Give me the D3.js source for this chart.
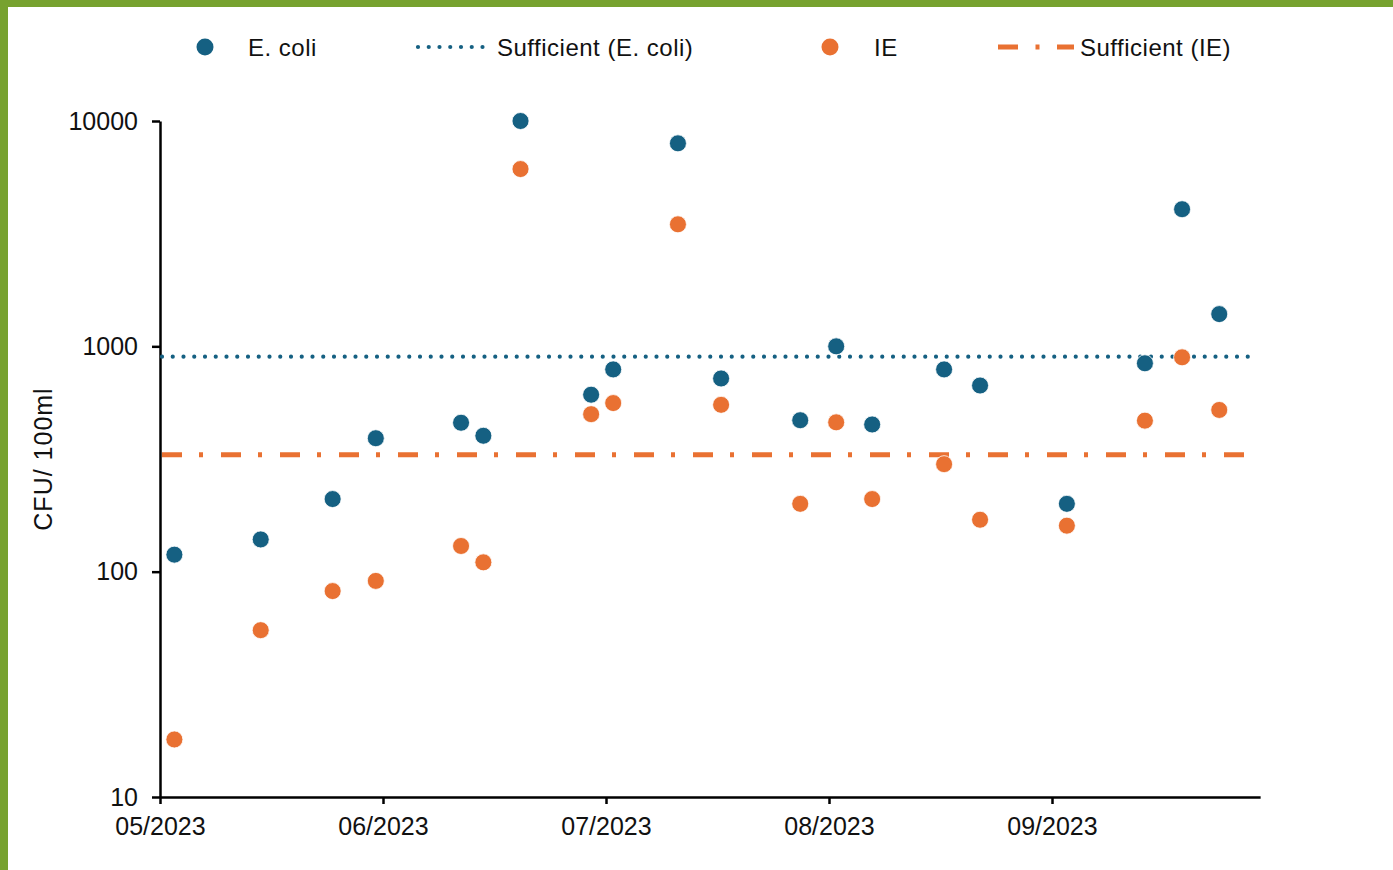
<!DOCTYPE html>
<html>
<head>
<meta charset="utf-8">
<script src="https://cdn.jsdelivr.net/npm/d3@7/dist/d3.min.js"></script>
<style>
  html, body { margin: 0; padding: 0; background: #fff; }
  svg { display: block; font-family: "Liberation Sans", Arial, sans-serif; }
</style>
</head>
<body>
<div id="chart"></div>
<script>
// sample times (2023) and results, CFU / 100ml
const sampleDates = [
  "2023-05-03T00", "2023-05-15T00", "2023-05-25T00", "2023-05-31T00", "2023-06-11T12",
  "2023-06-14T12", "2023-06-19T12", "2023-06-29T00", "2023-07-02T00", "2023-07-11T00",
  "2023-07-17T00", "2023-07-28T00", "2023-08-02T00", "2023-08-07T00", "2023-08-17T00",
  "2023-08-22T00", "2023-09-03T00", "2023-09-13T12", "2023-09-18T12", "2023-09-23T12"
];
const ecoli = [119, 139, 210, 391, 458, 401, 10000, 610, 790, 7960,
               720, 470, 1000, 450, 790, 670, 200, 841, 4060, 1390];
const ie = [18, 55, 82, 91, 130, 110, 6120, 500, 560, 3480,
            550, 200, 460, 210, 300, 170, 160, 468, 894, 522];

const monthTicks = ["2023-05-01T00", "2023-06-01T00", "2023-07-01T00", "2023-08-01T00", "2023-09-01T00"];
const yTicks = [10, 100, 1000, 10000];

const sufficientEcoli = 900;
const sufficientIE = 330;

const series = [
  { name: "E. coli", values: ecoli, color: "#156082" },
  { name: "IE", values: ie, color: "#E97132" }
];

const W = 1393, H = 870;
const parse = d3.timeParse("%Y-%m-%dT%H");

const svg = d3.select("#chart").append("svg")
  .attr("width", W)
  .attr("height", H)
  .attr("viewBox", `0 0 ${W} ${H}`);

svg.append("rect").attr("width", W).attr("height", H).attr("fill", "#fff");

// green frame (top + left)
svg.append("rect").attr("x", 0).attr("y", 0).attr("width", W).attr("height", 7).attr("fill", "#77A22F");
svg.append("rect").attr("x", 0).attr("y", 0).attr("width", 8).attr("height", H).attr("fill", "#77A22F");

// months are spaced evenly on this axis
const left = 160, step = 223;
const monthDates = monthTicks.map(parse);
const axisEnd = parse("2023-09-29T00");
const lineEnd = parse("2023-09-28T00");

const x = d3.scaleTime()
  .domain([...monthDates, axisEnd])
  .range([...monthDates.map((d, i) => left + i * step), left + 4 * step + step * 28 / 30]);

const y = d3.scaleLog()
  .domain([10, 10000])
  .range([797, 121]);

// axes
const xAxis = svg.append("g")
  .attr("transform", `translate(0,${y(10)})`)
  .call(d3.axisBottom(x)
    .tickValues(monthDates)
    .tickFormat(d3.timeFormat("%m/%Y"))
    .tickSize(7)
    .tickSizeOuter(0)
    .tickPadding(13));

const yAxis = svg.append("g")
  .attr("transform", `translate(${x(monthDates[0])},0)`)
  .call(d3.axisLeft(y)
    .tickValues(yTicks)
    .tickFormat(d3.format("d"))
    .tickSize(8)
    .tickSizeOuter(0)
    .tickPadding(14));

[xAxis, yAxis].forEach(g => {
  g.select(".domain").attr("stroke", "#000").attr("stroke-width", 2.5);
  g.selectAll(".tick line").attr("stroke", "#000").attr("stroke-width", 2.5);
  g.selectAll(".tick text")
    .attr("fill", "#111")
    .style("font-size", "25px")
    .style("font-family", "Liberation Sans, Arial, sans-serif");
});

// y title
svg.append("text")
  .attr("transform", `translate(52,${(y(10) + y(10000)) / 2}) rotate(-90)`)
  .attr("text-anchor", "middle")
  .attr("fill", "#111")
  .style("font-size", "25px")
  .style("letter-spacing", "1px")
  .text("CFU/ 100ml");

// threshold lines
const thresholds = [
  { value: sufficientEcoli, color: "#156082", width: 4.2, dash: "0 10.75", cap: "round" },
  { value: sufficientIE, color: "#E97132", width: 5, dash: "20 17 4 18", cap: "butt" }
];

svg.selectAll(".threshold")
  .data(thresholds)
  .join("line")
  .attr("class", "threshold")
  .attr("x1", x(monthDates[0]) + 2)
  .attr("x2", x(lineEnd))
  .attr("y1", d => y(d.value))
  .attr("y2", d => y(d.value))
  .attr("stroke", d => d.color)
  .attr("stroke-width", d => d.width)
  .attr("stroke-dasharray", d => d.dash)
  .attr("stroke-linecap", d => d.cap);

// points
series.forEach(s => {
  svg.append("g")
    .selectAll("circle")
    .data(s.values.map((v, i) => ({ date: parse(sampleDates[i]), value: v })))
    .join("circle")
    .attr("cx", d => x(d.date))
    .attr("cy", d => y(d.value))
    .attr("r", 8.5)
    .attr("fill", s.color)
    .attr("stroke", "#fff")
    .attr("stroke-width", 0.8);
});

// legend
const legend = svg.append("g").style("font-size", "24px").style("letter-spacing", "0.5px");
const legY = 47;

legend.append("circle").attr("cx", 205).attr("cy", legY).attr("r", 8.5).attr("fill", "#156082");
legend.append("text").attr("x", 248).attr("y", legY + 9).attr("fill", "#111").text("E. coli");

legend.append("line")
  .attr("x1", 418).attr("x2", 488).attr("y1", legY).attr("y2", legY)
  .attr("stroke", "#156082").attr("stroke-width", 4.2)
  .attr("stroke-dasharray", "0 10.75").attr("stroke-linecap", "round");
legend.append("text").attr("x", 497).attr("y", legY + 9).attr("fill", "#111").text("Sufficient (E. coli)");

legend.append("circle").attr("cx", 830).attr("cy", legY).attr("r", 8.5).attr("fill", "#E97132");
legend.append("text").attr("x", 874).attr("y", legY + 9).attr("fill", "#111").text("IE");

legend.append("line")
  .attr("x1", 998).attr("x2", 1074).attr("y1", legY).attr("y2", legY)
  .attr("stroke", "#E97132").attr("stroke-width", 5)
  .attr("stroke-dasharray", "20 17.5 4 17.5");
legend.append("text").attr("x", 1080).attr("y", legY + 9).attr("fill", "#111").text("Sufficient (IE)");
</script>
</body>
</html>
